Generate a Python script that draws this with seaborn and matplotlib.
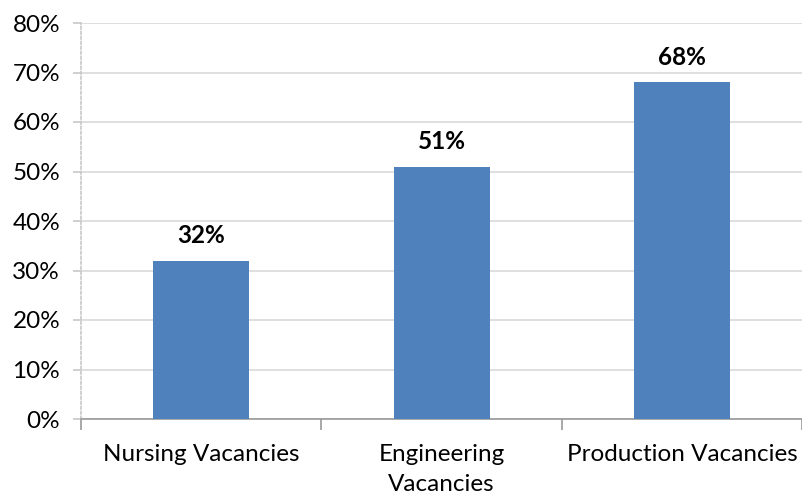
import matplotlib
matplotlib.use("Agg")
import matplotlib.pyplot as plt
import seaborn as sns
import pandas as pd
from matplotlib.ticker import FuncFormatter, FixedLocator

categories = ["Nursing Vacancies", "Engineering\nVacancies", "Production Vacancies"]
values = [32, 51, 68]
yticks = [0, 10, 20, 30, 40, 50, 60, 70, 80]

sns.set_theme(style="white")
plt.rcParams['font.family'] = ['Lato', 'DejaVu Sans']

df = pd.DataFrame({"cat": categories, "val": values})

fig = plt.figure(figsize=(8.03, 4.96), dpi=100)
ax = fig.add_axes([81/803, 1-419/496, 1-81/803 - 0.001, (419-23)/496])

sns.barplot(data=df, x="cat", y="val", color="#4F81BD", width=0.4, saturation=1, ax=ax,
            zorder=3, linewidth=0)

ax.set_ylim(0, 80)
ax.set_xlim(-0.5, 2.5)
ax.yaxis.set_major_locator(FixedLocator(yticks))
ax.yaxis.set_major_formatter(FuncFormatter(lambda v, p: f"{int(v)}%"))
ax.grid(axis="y", color="#d9d9d9", linewidth=1.2, zorder=0)
ax.set_xlabel("")
ax.set_ylabel("")

for s in ["top", "right"]:
    ax.spines[s].set_visible(False)
ax.spines["left"].set_color("#c8c8c8")
ax.spines["left"].set_linestyle((0, (1.5, 1.5)))
ax.spines["left"].set_linewidth(1.2)
ax.spines["bottom"].set_color("#999999")
ax.spines["bottom"].set_linewidth(1.2)

ax.tick_params(axis="y", which="major", left=True, length=6, color="#c8c8c8", width=1.2,
               labelsize=17.5, labelcolor="black", pad=9)
ax.tick_params(axis="x", which="major", bottom=False, labelsize=17.5, labelcolor="black", pad=12)
ax.set_xticks([-0.5, 0.5, 1.5, 2.5], minor=True)
ax.tick_params(axis="x", which="minor", bottom=True, length=8, color="#999999", width=1.2, direction="out")

for lbl in ax.get_xticklabels():
    lbl.set_linespacing(1.55)

for c in ax.containers:
    ax.bar_label(c, labels=[f"{v}%" for v in values], padding=10, fontsize=17.5,
                 fontweight="bold", color="black")

fig.savefig("out.png", dpi=100)
